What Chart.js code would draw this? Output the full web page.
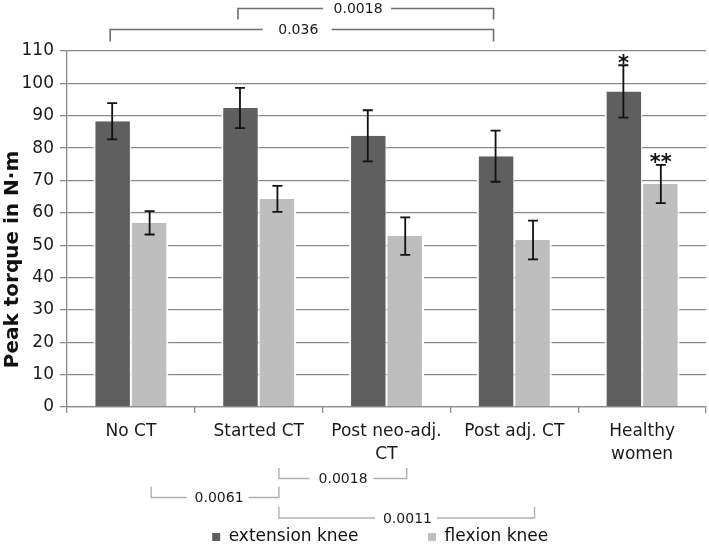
<!DOCTYPE html>
<html><head><meta charset="utf-8">
<script src="https://cdn.jsdelivr.net/npm/chart.js@4/dist/chart.umd.min.js"></script>
<style>html,body{margin:0;padding:0;background:#fff}#wrap{width:709px;height:547px}</style>
</head><body><div id="wrap"><canvas id="c" width="709" height="547"></canvas></div>
<script>
// ---- data ----
const categories = ["No CT", "Started CT", ["Post neo-adj.", "CT"], "Post adj. CT", ["Healthy", "women"]];
const seriesNames = ["extension knee", "flexion knee"];
const extension = [88.3, 92.4, 83.8, 77.5, 97.5];
const extensionErr = [5.6, 6.2, 7.9, 7.9, 8.1];
const flexion = [56.9, 64.3, 52.8, 51.6, 68.9];
const flexionErr = [3.6, 4.0, 5.8, 6.0, 5.9];
const extensionMarks = ["", "", "", "", "*"];
const flexionMarks = ["", "", "", "", "**"];
const yTicks = [0, 10, 20, 30, 40, 50, 60, 70, 80, 90, 100, 110];
const yTitle = "Peak torque in N\u00B7m";
// significance brackets: [fromCategory, toCategory, p-value]
const extensionBrackets = [[1, 3, "0.0018"], [0, 3, "0.036"]];
const flexionBrackets = [[1, 2, "0.0018"], [0, 1, "0.0061"], [1, 3, "0.0011"]];

// ---- style ----
const FONT = "'DejaVu Sans', sans-serif";
const EXT_COLOR = '#5f5f5f', FLX_COLOR = '#bebebe';
const GRID = '#8a8a8a';
const TEXT = '#1a1a1a';
const topStyle = [{y: 8.5, drop: 11, t: 0.466, gap: 34}, {y: 29.5, drop: 12, t: 0.488, gap: 34.5}];
const botStyle = [{y: 478.5, rise: 10.5, t: 0.49, gap: 32}, {y: 497.5, rise: 11, t: 0.52, gap: 31}, {y: 518, rise: 11.3, t: 0.497, gap: 31}];

const annot = {
  id: 'annot',
  afterLayout(chart) {
    if (chart.legend) { chart.legend.left -= 12.5; }
  },
  afterDatasetsDraw(chart) {
    const ctx = chart.ctx, ys = chart.scales.y;
    const sets = [
      [chart.getDatasetMeta(0).data, extension, extensionErr, extensionMarks],
      [chart.getDatasetMeta(1).data, flexion, flexionErr, flexionMarks]
    ];
    ctx.save();
    ctx.strokeStyle = '#111'; ctx.lineWidth = 1.8; ctx.fillStyle = '#111';
    sets.forEach(([bars, vals, errs, marks]) => {
      bars.forEach((bar, i) => {
        const x = bar.x;
        const top = ys.getPixelForValue(vals[i] + errs[i]);
        const bot = ys.getPixelForValue(vals[i] - errs[i]);
        ctx.beginPath();
        ctx.moveTo(x, top); ctx.lineTo(x, bot);
        ctx.moveTo(x - 5, top); ctx.lineTo(x + 5, top);
        ctx.moveTo(x - 5, bot); ctx.lineTo(x + 5, bot);
        ctx.stroke();
        if (marks[i]) {
          ctx.font = "bold 21px " + FONT;
          ctx.textAlign = 'center'; ctx.textBaseline = 'alphabetic';
          const m = ctx.measureText(marks[i]);
          const b = -m.actualBoundingBoxDescent;
          ctx.fillText(marks[i], x, top - 1.5 + b);
        }
      });
    });
    ctx.restore();
  },
  afterDraw(chart) {
    const ctx = chart.ctx;
    const ext = chart.getDatasetMeta(0).data, flx = chart.getDatasetMeta(1).data;
    ctx.save();
    ctx.font = "14px " + FONT;
    ctx.textAlign = 'center'; ctx.textBaseline = 'middle';
    // top brackets (extension)
    extensionBrackets.forEach(([a, b, lab], k) => {
      const s = topStyle[k];
      const x1 = ext[a].x - 2, x2 = ext[b].x - 2;
      const lx = x1 + (x2 - x1) * s.t;
      ctx.strokeStyle = '#6e6e6e'; ctx.lineWidth = 1.6;
      ctx.beginPath();
      ctx.moveTo(x1, s.y + s.drop); ctx.lineTo(x1, s.y); ctx.lineTo(lx - s.gap, s.y);
      ctx.moveTo(lx + s.gap, s.y); ctx.lineTo(x2, s.y); ctx.lineTo(x2, s.y + s.drop);
      ctx.stroke();
      ctx.fillStyle = TEXT;
      ctx.fillText(lab, lx + 1, s.y + 0.5);
    });
    // bottom brackets (flexion)
    flexionBrackets.forEach(([a, b, lab], k) => {
      const s = botStyle[k];
      const x1 = flx[a].x + 1.5, x2 = flx[b].x + 1.5;
      const lx = x1 + (x2 - x1) * s.t;
      ctx.strokeStyle = '#b0b0b0'; ctx.lineWidth = 1.4;
      ctx.beginPath();
      ctx.moveTo(x1, s.y - s.rise); ctx.lineTo(x1, s.y); ctx.lineTo(lx - s.gap, s.y);
      ctx.moveTo(lx + s.gap, s.y); ctx.lineTo(x2, s.y); ctx.lineTo(x2, s.y - s.rise);
      ctx.stroke();
      ctx.fillStyle = TEXT;
      ctx.fillText(lab, lx + 1.5, s.y + 1);
    });
    // y axis title
    ctx.translate(17.5, 259.5);
    ctx.rotate(-Math.PI / 2);
    ctx.font = "bold 20px " + FONT;
    ctx.textAlign = 'center'; ctx.textBaseline = 'alphabetic';
    ctx.fillStyle = '#111';
    ctx.fillText(yTitle, 0, 0);
    ctx.restore();
  }
};

new Chart(document.getElementById('c'), {
  type: 'bar',
  data: {
    labels: categories,
    datasets: [
      {label: seriesNames[0], data: extension, backgroundColor: EXT_COLOR, borderColor: '#ffffff',
       borderWidth: {left: 2, right: 1, top: 0, bottom: 0}, categoryPercentage: 0.586, barPercentage: 1},
      {label: seriesNames[1], data: flexion, backgroundColor: FLX_COLOR, borderColor: '#ffffff',
       borderWidth: {left: 1, right: 2, top: 0, bottom: 0}, categoryPercentage: 0.586, barPercentage: 1}
    ]
  },
  options: {
    responsive: false, devicePixelRatio: 1, animation: false,
    layout: {padding: {top: 51, right: 3, bottom: -8.5, left: 0}},
    plugins: {
      legend: {
        position: 'bottom', fullSize: false,
        labels: {
          font: {family: FONT, size: 17}, color: '#111', boxWidth: 8, boxHeight: 8, padding: 69.5,
          generateLabels(chart) {
            const items = Chart.defaults.plugins.legend.labels.generateLabels(chart);
            items.forEach(it => { it.lineWidth = 0; it.strokeStyle = 'rgba(0,0,0,0)'; });
            return items;
          }
        }
      },
      tooltip: {enabled: false}
    },
    scales: {
      x: {
        grid: {display: true, drawOnChartArea: false, drawTicks: true, tickLength: 6, color: GRID, lineWidth: 1.3},
        border: {display: true, color: GRID, width: 1.3},
        ticks: {font: {family: FONT, size: 17, lineHeight: 1.3}, color: TEXT, padding: 8, maxRotation: 0, autoSkip: false},
        afterFit(s) { s.height = 52; }
      },
      y: {
        min: 0, max: 110,
        afterBuildTicks(s) { s.ticks = yTicks.map(v => ({value: v})); },
        ticks: {font: {family: FONT, size: 17}, color: TEXT, padding: 6},
        grid: {color: GRID, lineWidth: 1.3, tickLength: 7},
        border: {display: true, color: GRID, width: 1.3},
        afterFit(s) { s.width = 67; }
      }
    }
  },
  plugins: [annot]
});
</script>
</body></html>
